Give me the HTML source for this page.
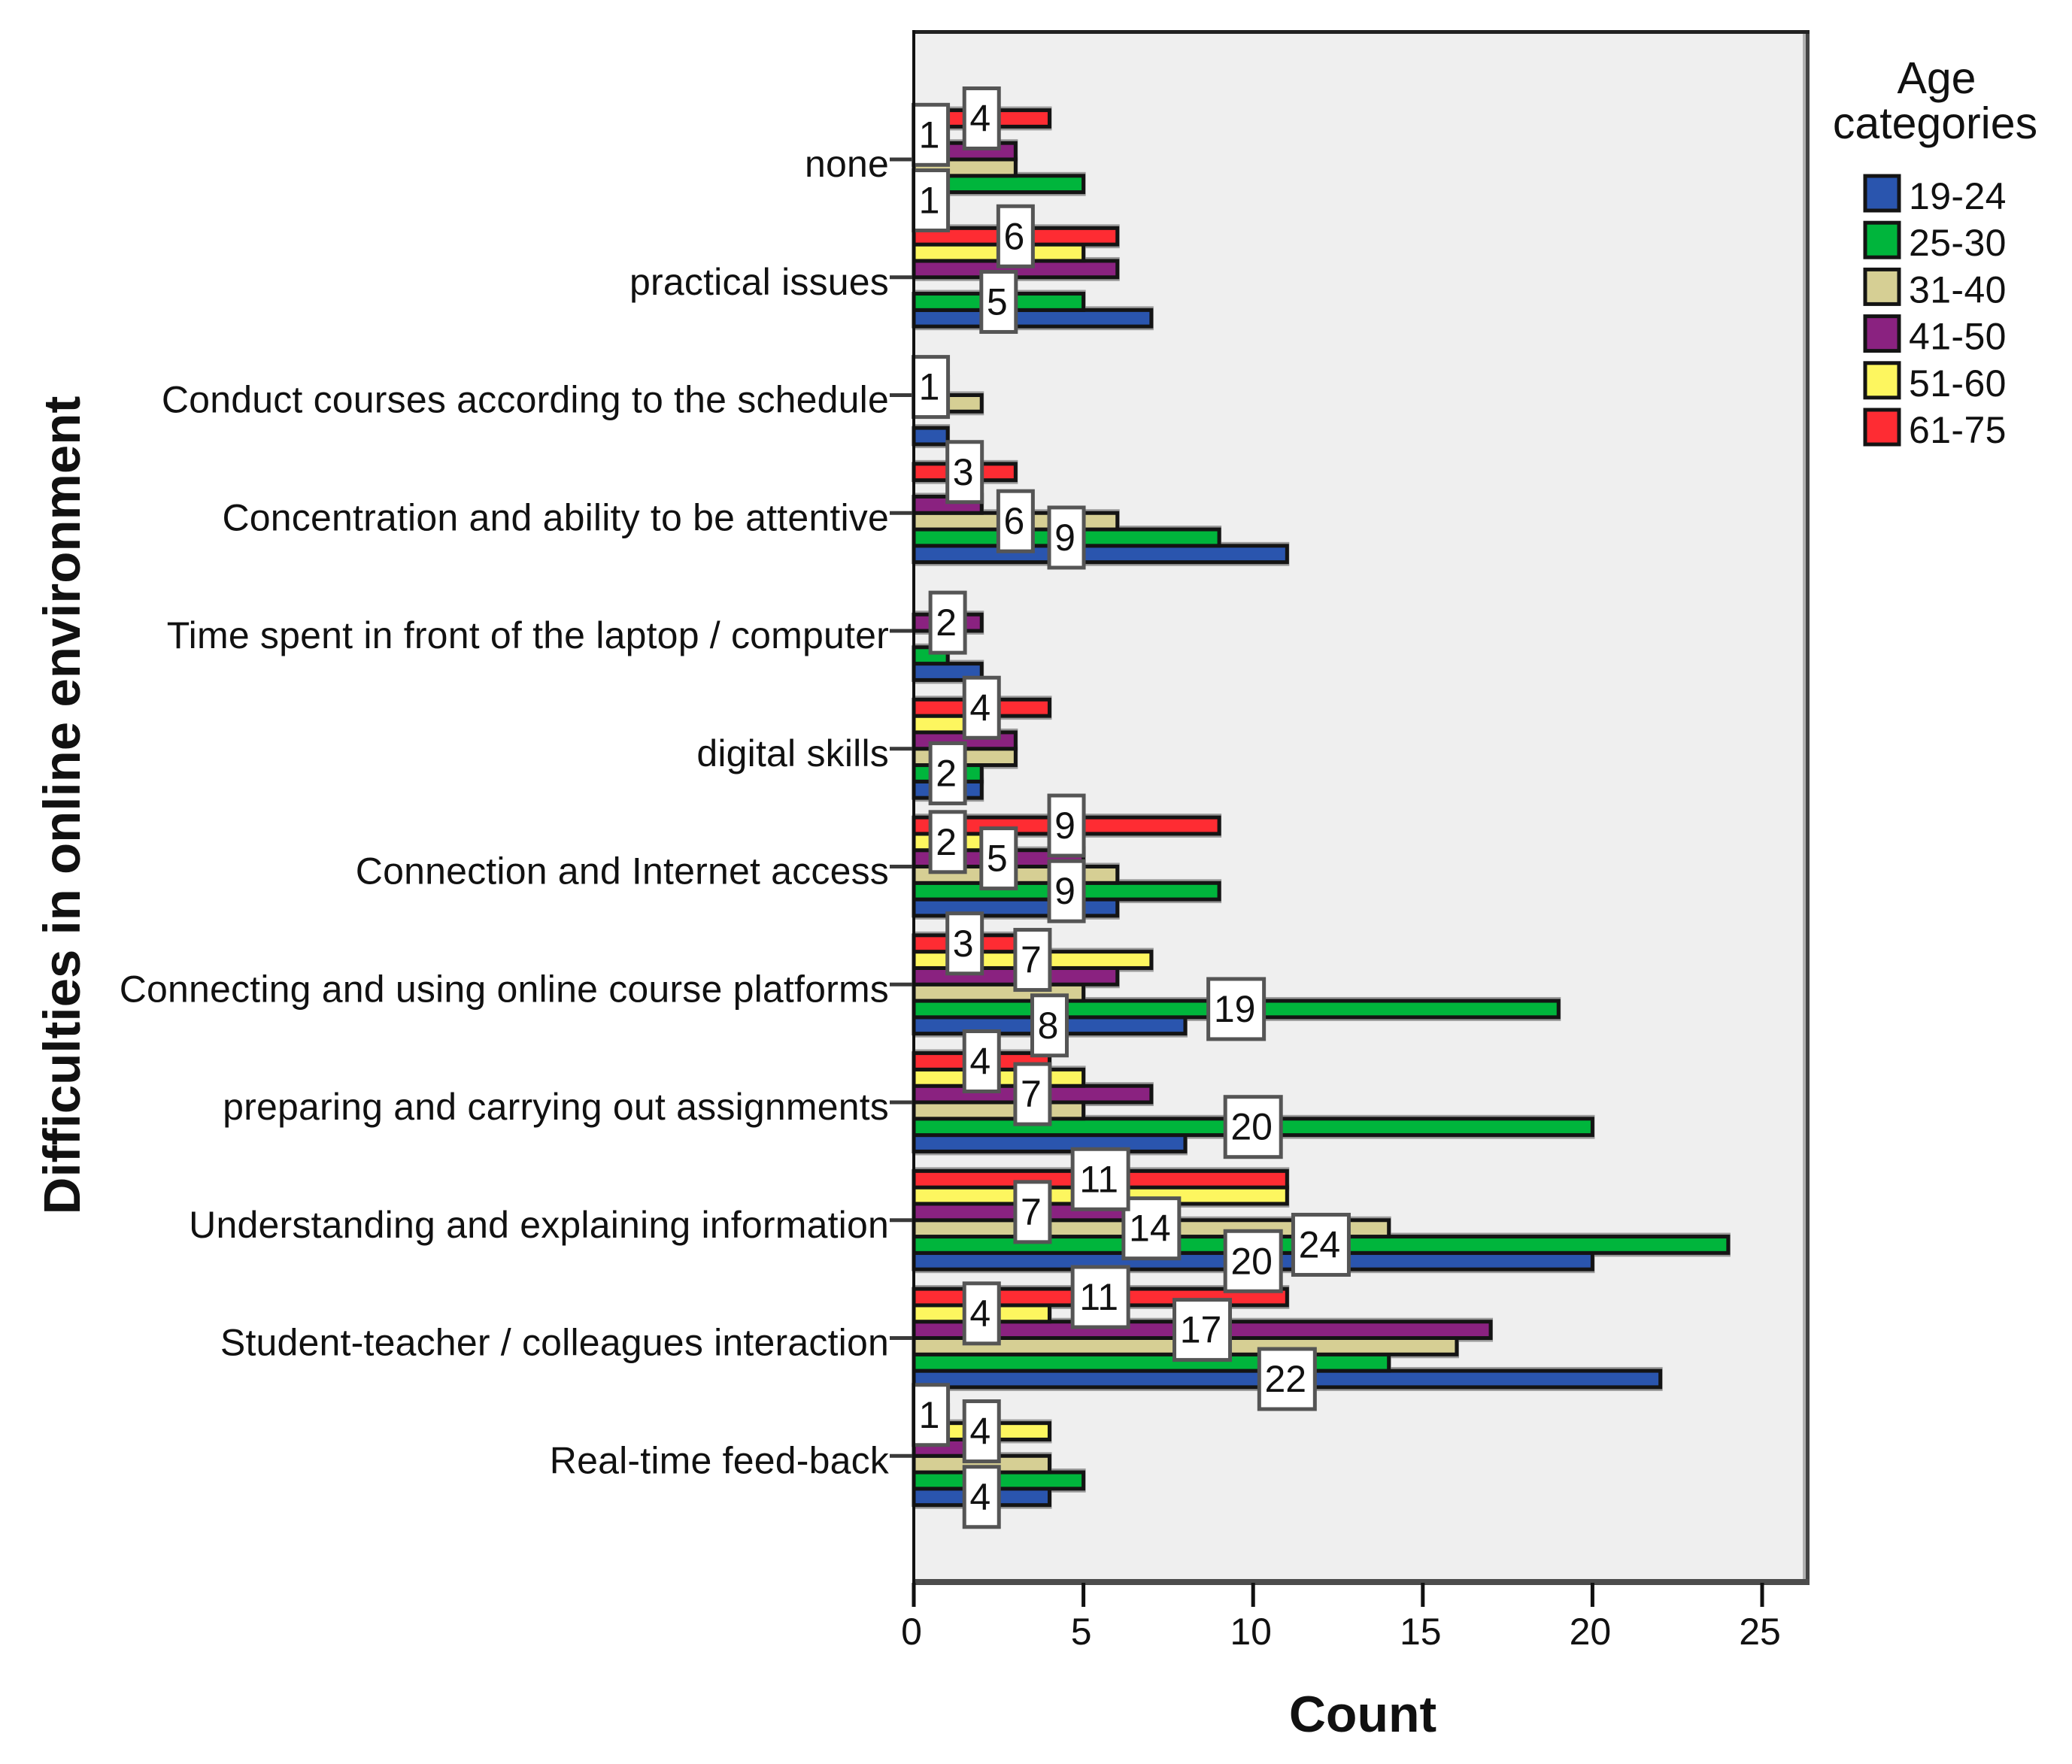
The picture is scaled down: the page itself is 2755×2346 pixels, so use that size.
<!DOCTYPE html>
<html lang="en">
<head>
<meta charset="utf-8">
<title>Difficulties in online environment by age category</title>
<style>
html,body{margin:0;padding:0;background:#fff;}
svg{display:block;}
text{font-family:"Liberation Sans",Arial,sans-serif;fill:#111;}
</style>
</head>
<body>
<svg id="chart" xmlns="http://www.w3.org/2000/svg" width="2755" height="2346" viewBox="0 0 2755 2346">
  <rect x="0" y="0" width="2755" height="2346" fill="#ffffff"/>
  <rect x="1215" y="43" width="1187" height="2061" fill="#efefef"/>
  <g id="bars"></g>
  <g id="frame">
    <rect x="2397" y="43" width="5" height="2061" fill="#b0b0b0"/>
    <rect x="2401" y="41" width="5" height="2067" fill="#444444"/>
    <rect x="1213" y="40" width="1193" height="5" fill="#222222"/>
  </g>
  <g id="yAxis"></g>
  <g id="xAxis"></g>
  <g id="valueLabels"></g>
  <rect x="1213" y="40" width="4" height="2068" fill="#111111"/>
  <text x="1812" y="2303" text-anchor="middle" font-size="68" font-weight="700">Count</text>
  <text transform="translate(106,1071) rotate(-90)" text-anchor="middle" font-size="69" font-weight="700">Difficulties in online environment</text>
  <g id="legend">
    <text x="2575" y="124" text-anchor="middle" font-size="59">Age</text>
    <text x="2573" y="184" text-anchor="middle" font-size="59">categories</text>
  </g>
</svg>
<script>
// Chart data (categories run top to bottom; each series follows that order)
const categories = [
  "none",
  "practical issues",
  "Conduct courses according to the schedule",
  "Concentration and ability to be attentive",
  "Time spent in front of the laptop / computer",
  "digital skills",
  "Connection and Internet access",
  "Connecting and using online course platforms",
  "preparing and carrying out assignments",
  "Understanding and explaining information",
  "Student-teacher / colleagues interaction",
  "Real-time feed-back"
];
const seriesNames = ["19-24", "25-30", "31-40", "41-50", "51-60", "61-75"];
const age19to24 = [1, 7, 1, 11, 2, 2, 6, 8, 8, 20, 22, 4];
const age25to30 = [5, 5, 0, 9, 1, 2, 9, 19, 20, 24, 14, 5];
const age31to40 = [3, 0, 2, 6, 0, 3, 6, 5, 5, 14, 16, 4];
const age41to50 = [3, 6, 1, 2, 2, 3, 5, 6, 7, 7, 17, 2];
const age51to60 = [1, 5, 0, 0, 0, 2, 2, 7, 5, 11, 4, 4];
const age61to75 = [4, 6, 0, 3, 0, 4, 9, 3, 4, 11, 11, 1];
const xTickLabels = [0, 5, 10, 15, 20, 25];
// Which series print their value, per category (0 = 19-24 ... 5 = 61-75)
const printedSeries = [
  [0, 4, 5], [1, 5], [3], [1, 2, 5], [3], [1, 5],
  [1, 3, 4, 5], [0, 1, 4, 5], [1, 3, 5], [0, 1, 2, 3, 5], [0, 3, 4, 5], [0, 4, 5]
];

const seriesValues = [age19to24, age25to30, age31to40, age41to50, age51to60, age61to75];
const seriesColors = ["#2a55ae", "#00b53c", "#d6cf94", "#8a2280", "#fdf65f", "#fe2c33"];
const SVGNS = "http://www.w3.org/2000/svg";

function xScale(v) { return 1215 + v * 45.12; }
function categoryY(i) { return 212 + i * 156.75; }
function barY(i, s) { return categoryY(i) + (2.5 - s) * 21.8; }

function make(tag, parent) {
  const el = document.createElementNS(SVGNS, tag);
  parent.appendChild(el);
  return el;
}
function slug(text) {
  return String(text).toLowerCase().replace(/[^a-z0-9]+/g, "-").replace(/^-|-$/g, "");
}

const barsGroup = document.getElementById("bars");


const barHalf = 10.9;
seriesValues.forEach(function (values, s) {
  values.forEach(function (v, i) {
    if (v <= 0) return;
    const shade = make("rect", barsGroup);
    
    
    shade.setAttribute("x", xScale(0));
    shade.setAttribute("y", barY(i, s) - barHalf - 5);
    shade.setAttribute("width", xScale(v) - xScale(0) + 3);
    shade.setAttribute("height", barHalf * 2 + 10);
    shade.setAttribute("fill", "#9a9a9a");
  });
});
seriesValues.forEach(function (values, s) {
  values.forEach(function (v, i) {
    if (v <= 0) return;
    const bar = make("rect", barsGroup);
    
    
    bar.setAttribute("x", xScale(0));
    bar.setAttribute("y", barY(i, s) - barHalf);
    bar.setAttribute("width", xScale(v) - xScale(0));
    bar.setAttribute("height", barHalf * 2);
    bar.setAttribute("fill", seriesColors[s]);
    bar.setAttribute("stroke", "#141414");
    bar.setAttribute("stroke-width", "5");
  });
});

const yGroup = document.getElementById("yAxis");


categories.forEach(function (name, i) {
  const tick = make("rect", yGroup);
  
  
  tick.setAttribute("x", 1183);
  tick.setAttribute("y", categoryY(i) - 2.5);
  tick.setAttribute("width", 32);
  tick.setAttribute("height", 5);
  tick.setAttribute("fill", "#3a3a3a");
  const label = make("text", yGroup);
  
  
  label.setAttribute("x", 1182);
  label.setAttribute("y", categoryY(i) + 23);
  label.setAttribute("text-anchor", "end");
  label.setAttribute("font-size", "50");
  label.setAttribute("letter-spacing", "0.2");
  label.textContent = name;
});

const xGroup = document.getElementById("xAxis");


const bottomLine = make("rect", xGroup);


bottomLine.setAttribute("x", 1213);
bottomLine.setAttribute("y", 2100);
bottomLine.setAttribute("width", 1193);
bottomLine.setAttribute("height", 8);
bottomLine.setAttribute("fill", "#4c4c4c");
xTickLabels.forEach(function (t) {
  const tick = make("rect", xGroup);
  
  
  tick.setAttribute("x", xScale(t) - 2.5);
  tick.setAttribute("y", 2105);
  tick.setAttribute("width", 5);
  tick.setAttribute("height", 32);
  tick.setAttribute("fill", "#111111");
  const label = make("text", xGroup);
  
  
  label.setAttribute("x", xScale(t) - 3);
  label.setAttribute("y", 2187);
  label.setAttribute("text-anchor", "middle");
  label.setAttribute("font-size", "50");
  label.textContent = t;
});

const labelGroup = document.getElementById("valueLabels");


printedSeries.forEach(function (list, i) {
  list.forEach(function (s) {
    const v = seriesValues[s][i];
    const text = String(v);
    const w = text.length > 1 ? 74 : 46;
    const cx = xScale(v / 2);
    const cy = barY(i, s);
    const box = make("rect", labelGroup);
    
    
    box.setAttribute("x", cx - w / 2);
    box.setAttribute("y", cy - 40);
    box.setAttribute("width", w);
    box.setAttribute("height", 80);
    box.setAttribute("fill", "#ffffff");
    box.setAttribute("stroke", "#555555");
    box.setAttribute("stroke-width", "5");
    const label = make("text", labelGroup);
    
    
    label.setAttribute("x", cx - 2);
    label.setAttribute("y", cy + 17);
    label.setAttribute("text-anchor", "middle");
    label.setAttribute("font-size", "50");
    label.textContent = text;
  });
});

const legendGroup = document.getElementById("legend");
seriesNames.forEach(function (name, s) {
  const y = 234 + s * 62.2;
  const swatch = make("rect", legendGroup);
  
  
  swatch.setAttribute("x", 2480);
  swatch.setAttribute("y", y);
  swatch.setAttribute("width", 45);
  swatch.setAttribute("height", 46);
  swatch.setAttribute("fill", seriesColors[s]);
  swatch.setAttribute("stroke", "#141414");
  swatch.setAttribute("stroke-width", "5");
  const label = make("text", legendGroup);
  
  
  label.setAttribute("x", 2538);
  label.setAttribute("y", y + 44);
  label.setAttribute("font-size", "50");
  label.setAttribute("letter-spacing", "0.4");
  label.textContent = name;
});
</script>
</body>
</html>
